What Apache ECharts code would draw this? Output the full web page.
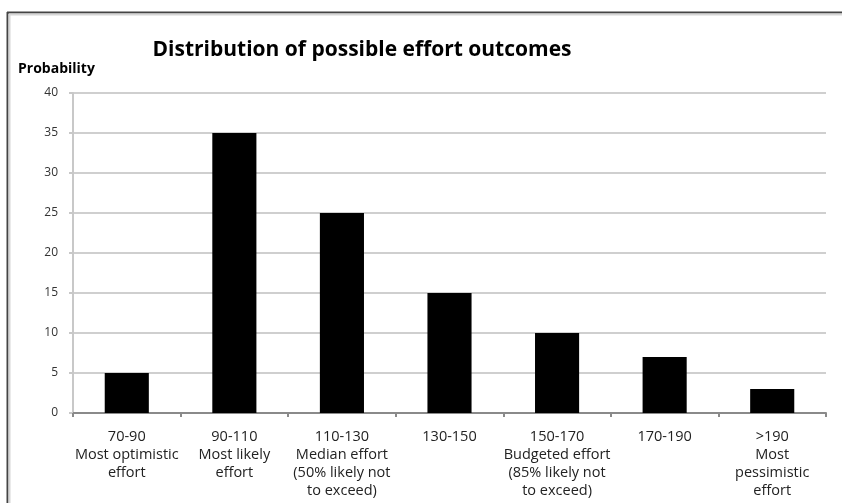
<!DOCTYPE html>
<html>
<head>
<meta charset="utf-8">
<script src="https://cdn.jsdelivr.net/npm/echarts@6/dist/echarts.min.js"></script>
<style>
  html, body { margin: 0; padding: 0; background: #fff; }
  #chart { width: 842px; height: 503px; }
</style>
</head>
<body>
<div id="chart"></div>
<script>
// Effort ranges with their descriptive captions
const categories = [
  '70-90\nMost optimistic\neffort',
  '90-110\nMost likely\neffort',
  '110-130\nMedian effort\n(50% likely not\nto exceed)',
  '130-150',
  '150-170\nBudgeted effort\n(85% likely not\nto exceed)',
  '170-190',
  '>190\nMost\npessimistic\neffort'
];
// Probability (%) of each effort range
const probability = [5, 35, 25, 15, 10, 7, 3];
const yTicks = { min: 0, max: 40, interval: 5 };

const font = '"Open Sans", sans-serif';
const chart = echarts.init(document.getElementById('chart'));
chart.setOption({
  animation: false,
  backgroundColor: '#fff',
  title: {
    text: 'Distribution of possible effort outcomes',
    left: 357, textAlign: 'center', top: 35,
    textStyle: { fontFamily: font, fontSize: 21, fontWeight: 'bold', color: '#000' }
  },
  graphic: [
    // window frame along the top and left edges
    { type: 'line', shape: { x1: 7.5, y1: 12, x2: 7.5, y2: 503 }, style: { stroke: '#444', lineWidth: 2 } },
    { type: 'line', shape: { x1: 7, y1: 12.5, x2: 842, y2: 12.5 }, style: { stroke: '#444', lineWidth: 2 } },
    { type: 'line', shape: { x1: 9.5, y1: 14, x2: 9.5, y2: 503 }, style: { stroke: '#d6d6d6', lineWidth: 2 } },
    { type: 'line', shape: { x1: 9, y1: 14.5, x2: 842, y2: 14.5 }, style: { stroke: '#d6d6d6', lineWidth: 2 } },
    {
      type: 'text', left: 18, top: 62,
      style: { text: 'Probability', font: 'bold 14px ' + font, fill: '#000' }
    }
  ],
  grid: { left: 73, right: 16, top: 93, bottom: 90 },
  xAxis: {
    type: 'category',
    data: categories,
    axisLine: { lineStyle: { color: '#8a8a8a', width: 2 } },
    axisTick: { show: true, length: 4, lineStyle: { color: '#8a8a8a', width: 2 } },
    axisLabel: {
      interval: 0, margin: 15, fontFamily: font, fontSize: 14.5,
      color: '#222', lineHeight: 18, align: 'center'
    }
  },
  yAxis: {
    type: 'value',
    min: yTicks.min, max: yTicks.max, interval: yTicks.interval,
    axisLine: { show: true, lineStyle: { color: '#c8c8c8', width: 2 } },
    axisTick: { show: true, length: 4, lineStyle: { color: '#c8c8c8', width: 2 } },
    splitLine: { lineStyle: { color: '#cfcfcf', width: 2 } },
    axisLabel: { margin: 15, fontFamily: font, fontSize: 12, color: '#333' }
  },
  series: [{
    type: 'bar',
    data: probability,
    barWidth: '41%',
    itemStyle: { color: '#000' }
  }]
});
</script>
</body>
</html>
